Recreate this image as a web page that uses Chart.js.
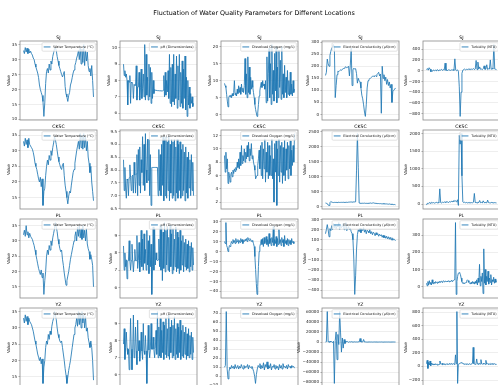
<!DOCTYPE html>
<html><head><meta charset="utf-8">
<script src="https://cdn.jsdelivr.net/npm/chart.js@4.4.0/dist/chart.umd.min.js"></script>
<style>
html,body{margin:0;padding:0;background:#fff;}
#fig{position:relative;width:498px;height:385px;overflow:hidden;background:#fff;}
canvas{position:absolute}
</style></head><body>
<div id="fig"><canvas id="title" width="498" height="24" style="left:0;top:0;width:498px;height:24px"></canvas></div>
<script>
const mainTitle = 'Fluctuation of Water Quality Parameters for Different Locations';
const locations = ['SJ','CKSC','PL','YZ'];
const parameters = ['Water Temperature (°C)','pH (Dimensionless)','Dissolved Oxygen (mg/L)','Electrical Conductivity (μS/cm)','Turbidity (NTU)'];

const sjTemp = [33,32,34,32.5,33.8,32,33.5,32.2,32.8,32,
31.5,30.5,30,28.5,27.5,26.5,25.5,24,21.5,20,
19,18,16,11,15.5,22,26,27,25.5,28.5,
26.5,29.5,28.5,31,32.3,33.5,34,33,31,29.5,
28,27,26,25,24.2,25,26,21,18.5,17.5,
16,18,19,21.5,22.5,24,25.5,26.5,28,29,
30.5,31.5,33,30,34,28.5,33.5,29,35,28,
33,29.5,32.5,28,26,27,24.5,28,23,17.5];
const sjPH = [9.0,8.3,8.6,8.2,8.4,8.0,6.5,8.0,7.9,8.3,
6.6,7.9,7.85,7.8,6.9,7.75,7.7,7.7,8.9,6.8,
7.6,7.6,8.5,6.8,7.55,8.7,6.9,7.5,8.4,7.0,
10.2,6.8,9.6,7.1,8.2,6.8,9.0,7.0,8.8,6.6,
8.5,6.9,8.0,7.2,7.45,7.4,7.4,7.4,7.38,7.38,
7.38,7.37,7.37,7.36,7.36,7.36,7.4,8.3,7.0,8.5,
7.1,8.0,7.3,8.6,6.9,9.6,6.6,8.8,6.4,9.0,
6.7,9.6,6.5,8.4,6.9,9.5,6.3,8.9,6.8,9.6,
6.4,8.5,6.6,9.2,6.3,8.7,6.9,9.5,6.2,8.2,
5.8,8.0,6.5,7.6,6.3,7.2,6.6,7.0,6.4,6.6];
const sjDO = [9.2,8.5,8.0,6.0,4.0,2.3,5.0,5.6,5.2,5.8,
5.0,6.2,5.5,6.5,10.0,5.8,6.4,5.5,7.5,6.2,
8.5,6.5,8.0,6.0,9.0,6.8,7.8,6.5,8.5,16.5,
6.0,12.0,5.0,17.0,6.5,14.0,6.0,11.0,7.5,10.0,
8.0,6.5,5.0,3.0,1.5,0.5,-0.5,0.5,3.0,5.5,
7.0,8.5,9.5,8.0,10.0,8.5,9.0,7.5,10.0,3.5,
17.0,4.0,12.0,19.5,5.0,15.0,3.0,20.6,6.0,13.0,
4.0,18.0,7.0,20.0,3.5,14.0,5.0,19.0,8.0,16.0,
4.5,20.0,6.0,12.0,5.0,14.5,6.5,11.0,5.0,13.0,
6.0,10.0,5.5,12.5,6.0,9.0,5.5,10.0,6.5,7.5];
const sjEC = [162,175,230,210,200,245,262,275,280,290,
278,70,120,165,180,178,182,185,183,188,
190,192,195,198,194,196,200,160,205,275,
120,185,192,188,190,170,130,150,140,135,
110,80,65,40,10,-8,40,110,140,145,
148,152,155,158,160,156,162,158,165,170,
175,160,168,5,200,150,165,140,155,125,
145,120,135,110,125,50,95,100,105,110];
const sjTurb = [20,40,10,55,30,-20,5,-10,15,0,
10,-5,20,5,0,15,10,25,5,20,
10,140,5,15,0,20,10,5,15,10,
20,5,220,10,0,15,-10,-300,-850,-400,
-50,10,20,30,15,25,20,30,25,35,
20,30,25,40,20,30,190,20,160,30,
70,25,30,20,35,90,25,30,110,20,
35,30,200,25,40,30,485,30,25,20];

const ckscTemp = [33,31.5,34,32,33.5,31,34,32,31.5,31,
30.5,29.5,28,26,25,24,22.5,21,20,21.5,
18.5,21,12.5,17,18,22,25,27,25.5,28.5,
27,30,28.5,31,32.5,34.5,33.5,32,30,28,
26.5,25.5,24.5,24,25.5,26,22,19,17,15,
13,15.5,17,16.5,19,21,23,24,26,28,
30,31.5,33,30.5,35.5,31,35,30.5,35.5,31,
34.5,30,33,28,26,23,25,20,17,14];
const ckscPH = [8.4,7.2,8.1,7.3,6.9,7.65,7.6,7.0,7.7,8.2,
7.7,7.2,7.75,7.8,7.1,8.3,7.8,7.1,7.85,8.6,
7.0,8.8,7.4,8.9,7.1,8.4,7.9,9.3,7.4,9.0,
7.2,9.42,8.0,7.5,9.2,7.6,9.2,7.0,8.6,6.62,
8.1,8.1,8.1,8.1,8.1,8.1,8.1,8.1,8.1,7.0,
8.8,7.2,8.6,7.0,9.0,7.4,9.3,6.8,9.2,7.0,
9.3,6.9,9.1,7.2,9.3,6.8,9.0,7.1,9.2,6.9,
9.1,7.0,9.2,6.8,8.9,7.1,9.2,6.9,9.0,7.2,
9.1,6.9,8.8,7.0,9.0,7.2,8.7,6.8,8.9,7.1,
8.5,6.9,8.7,7.3,8.4,7.0,8.6,7.2,8.3,7.0];
const ckscDO = [9.0,6.5,9.5,7.0,8.5,4.8,6.5,6.0,5.0,6.2,
6.5,5.8,6.8,6.3,7.0,6.6,7.2,6.8,8.0,7.2,
8.5,7.0,9.5,7.5,10.5,7.8,9.0,8.2,10.0,8.0,
9.5,8.5,10.5,8.8,11.0,8.2,10.0,9.0,10.8,8.5,
9.0,8.0,7.5,6.8,5.5,5.8,6.0,7.5,8.5,9.8,
7.0,10.5,6.0,11.0,5.5,10.0,7.0,11.5,5.0,9.5,
6.5,11.0,5.5,10.5,6.0,9.0,6.0,11.5,5.5,8.5,
2.0,10.8,6.5,11.2,1.5,10.0,6.0,11.5,5.0,10.5,
6.5,11.0,4.8,10.2,6.0,11.3,5.2,10.0,6.8,11.0,
5.5,10.5,7.0,11.2,6.0,9.8,7.5,10.5,8.0,12.3];
const ckscEC = [130,120,110,60,50,140,180,160,150,145,
150,148,152,145,150,155,148,150,152,150,
155,150,148,152,155,150,158,160,162,165,
160,158,170,165,170,1200,2440,1300,130,120,
125,118,122,120,125,118,120,115,122,118,
125,130,120,128,135,125,120,118,115,110,
112,108,110,105,100,110,95,105,98,100,
95,90,100,85,92,80,88,75,80,70];
const ckscTurb = [-30,20,10,40,30,20,50,30,40,25,
35,50,30,40,30,430,40,30,50,40,
60,45,70,50,60,40,70,50,80,60,
90,70,100,80,60,120,-40,1950,1700,2000,
800,60,40,50,35,45,30,40,35,45,
30,40,35,50,300,40,45,30,50,40,
100,35,45,30,90,40,35,45,30,110,
40,35,30,45,40,35,30,40,35,30];

const plTemp = [32,33.5,31.5,35,32,33,31,32.5,31.5,31,
30.5,29.5,28.5,27,25.5,24,22.5,21,20,19,
20.5,18,19.5,12.5,17,20,25,27,25.5,28.5,
27,30,28.5,31,32.5,34,36,34.5,33,30.5,
29,27.5,26.5,27,24,22,19.5,17.5,15.5,17,
18.5,20,22,24,25.5,27,28.5,30,31.5,33,
30,34.5,31.5,35,31,34,30.5,35,31,33.5,
30,34,29,27.5,26.5,24,25.5,24,22,15];
const plPH = [8.4,7.0,8.0,7.2,7.6,6.5,7.55,7.55,8.7,7.55,
7.0,7.55,8.5,7.55,6.9,7.55,8.2,7.55,7.55,9.0,
7.1,7.55,8.6,6.9,7.55,9.3,7.2,8.8,7.0,9.1,
7.4,8.2,7.0,9.3,7.3,8.7,6.8,9.0,7.2,8.5,
5.6,7.2,9.5,7.0,9.4,7.3,8.0,7.6,7.55,7.6,
8.8,7.2,9.6,7.0,9.5,6.4,9.2,7.1,9.75,6.9,
9.3,7.3,9.5,7.0,8.9,6.9,9.6,7.2,9.1,6.8,
9.4,7.0,8.8,7.2,9.5,6.9,9.2,7.1,8.9,6.8,
9.3,7.0,8.7,7.3,9.0,6.9,8.6,7.2,8.8,7.0,
8.5,7.1,8.7,6.9,8.4,7.2,8.6,7.0,8.3,7.3];
const plDO = [10,8,29,6,4,0,3,6,5,8,
10,8,12,9,11,8,13,9,10,12,
8,11,9,13,10,12,8,11,10,12,
11,13,10,14,12,11,13,12,10,11,
10,8,5,-5,-18,-32,-43,-35,-15,0,
5,8,12,7,13,5,14,8,11,15,
7,12,5,18,8,13,6,14,9,25,
6,12,8,15,5,13,7,22,8,12,
6,14,9,12,5,16,8,11,7,13,
6,12,8,11,7,13,9,10,8,9];
const plEC = [160,200,250,200,130,210,190,240,200,260,
220,250,210,240,230,270,200,250,220,230,
260,200,240,270,190,210,230,200,215,180,
160,100,-100,-440,-250,0,150,200,180,215,
170,205,190,220,175,200,160,195,185,170,
200,160,180,150,175,165,140,170,150,160,
135,155,140,150,125,145,120,140,115,135,
110,130,105,125,100,120,95,110,100,90];
const plTurb = [20,5,30,10,35,15,25,10,40,20,
15,25,20,30,25,20,28,22,30,25,
28,32,25,30,35,28,30,33,27,32,
30,35,28,33,30,36,32,30,35,40,
45,373,-45,30,60,78,82,80,70,50,
30,20,22,18,20,22,25,35,40,35,
25,20,15,25,18,30,20,28,15,30,
20,40,10,50,25,130,5,60,30,80,
-40,220,20,100,10,60,30,90,15,50,
25,70,10,40,30,55,20,45,25,35];

const yzTemp = [33,31.5,34,32,33.5,31,33,32,31.5,31,
30,29,27.5,26,25,23.5,22,21,20,21,
19,20.5,13,18,20,24,26,25,28,26.5,
29,28,30.5,32,33,35,34,32.5,30,28,
27,26,25.5,26,24,22,20,17.5,15.5,13,
15,17,18.5,20,22,24,26,28,30,31,
33,30.5,35,31,34.5,30,35,31.5,34,30,
33.5,29,30,27,25.5,24,26,24,20,14];
const yzPH = [7.8,8.7,6.9,7.6,8.5,7.55,7.2,7.5,6.3,7.5,
9.3,7.5,6.3,7.45,9.5,7.0,7.45,8.8,7.4,6.6,
9.2,7.4,8.0,6.8,7.4,8.5,7.4,6.9,9.0,7.4,
7.2,8.3,7.4,5.5,7.45,8.9,7.45,7.0,7.5,9.0,
7.5,7.5,8.2,7.5,7.0,7.55,8.6,7.2,9.7,7.0,
8.8,7.1,9.3,7.0,8.6,7.3,9.1,6.9,8.9,7.2,
9.3,7.0,8.7,7.1,9.5,6.9,8.8,7.3,9.2,7.0,
8.9,7.1,9.4,6.9,8.7,7.2,9.0,7.0,8.8,7.3,
9.2,6.9,8.6,7.1,8.9,7.0,8.5,7.2,8.8,6.9,
8.4,7.1,8.7,7.0,8.3,7.2,8.5,6.9,8.2,7.3];
const yzDO = [10,12,72,8,-3,5,10,8,12,9,
11,8,13,9,10,12,8,11,9,13,
10,8,12,9,11,10,13,8,12,10,
9,11,8,5,0,-8,2,8,12,10,
14,8,12,9,15,7,13,10,16,8,
12,9,14,7,11,10,13,8,12,9,
11,7,13,9,12,8,14,10,11,9,
12,8,13,10,11,9,12,10,11,9];
const yzEC = [0,500,60300,0,1000,-500,2000,0,-1000,1500,
-82000,3000,20000,-35000,15000,-5000,60300,18000,-20000,8000,
-12000,5000,-3000,2000,0,1000,-500,500,0,800,
0,300,-200,500,0,200,0,400,0,7000,
0,300,0,5000,0,200,0,-200,100,0,
200,0,100,-100,0,200,0,100,0,-100,
0,100,0,200,0,-100,0,100,0,50,
0,100,0,-50,0,100,0,50,0,0];
const yzTurb = [40,90,-30,60,20,80,10,50,30,40,
20,35,25,40,30,20,35,25,30,80,
40,30,45,25,35,30,40,25,35,30,
40,30,35,45,30,40,35,30,40,35,
30,170,40,807,-250,30,40,45,50,55,
50,45,40,35,30,35,30,40,35,30,
35,40,30,35,40,45,280,40,35,30,
45,110,35,40,30,45,35,100,40,30,
45,35,40,30,90,35,45,30,40,35,
30,45,35,40,30,35,40,30,35,30];

const series = [
  [sjTemp, sjPH, sjDO, sjEC, sjTurb],
  [ckscTemp, ckscPH, ckscDO, ckscEC, ckscTurb],
  [plTemp, plPH, plDO, plEC, plTurb],
  [yzTemp, yzPH, yzDO, yzEC, yzTurb]
];
const tickSteps = [
  [5, 1, 5, 50, 200],
  [5, 0.5, 2, 500, 500],
  [5, 1, 10, 100, 100],
  [5, 1, 10, 20000, 200]
];
const tickDecimals = [
  [0, 0, 0, 0, 0],
  [0, 1, 0, 0, 0],
  [0, 0, 0, 0, 0],
  [0, 0, 0, 0, 0]
];

// layout (pixels)
const colCenters = [58.4, 158.8, 259.4, 360.6, 461.6];
const rowTops = [41, 130, 219, 308];
const AXW = 77, AXH = 79;
const YW = 40, TM = 12, RM = 2, BM = 4;
const LINE = '#1f77b4';
const FONT = '"DejaVu Sans"';
const TICKSIZE = 4.1;

(function () {
  const c = document.getElementById('title').getContext('2d');
  c.font = '6.4px ' + FONT;
  c.fillStyle = '#000';
  c.textAlign = 'center';
  c.textBaseline = 'middle';
  c.fillText(mainTitle, 254, 13);
})();

function fmtTick(v, dec) {
  const s = Math.abs(v).toFixed(dec);
  return (v < -1e-9 ? '\u2212' : '') + s;
}

const decor = {
  id: 'decor',
  afterDraw(chart, args, o) {
    const {ctx, chartArea: a} = chart;
    ctx.save();
    ctx.strokeStyle = '#8a8a8a';
    ctx.lineWidth = 0.8;
    ctx.strokeRect(a.left, a.top, a.right - a.left, a.bottom - a.top);
    ctx.fillStyle = '#000';
    ctx.font = '4.6px ' + FONT;
    ctx.textAlign = 'center';
    ctx.textBaseline = 'alphabetic';
    ctx.fillText(o.title, (a.left + a.right) / 2, a.top - 2);
    ctx.font = TICKSIZE + 'px ' + FONT;
    let mw = 0;
    chart.scales.y.ticks.forEach(t => { mw = Math.max(mw, ctx.measureText(fmtTick(t.value, o.dec)).width); });
    const lx = a.left - 1.5 - 1.5 - mw - 1.2;
    ctx.save();
    ctx.translate(lx, (a.top + a.bottom) / 2);
    ctx.rotate(-Math.PI / 2);
    ctx.textAlign = 'center';
    ctx.textBaseline = 'bottom';
    ctx.fillStyle = '#111';
    ctx.fillText('Value', 0, 0);
    ctx.restore();
    const fs = 3.4;
    ctx.font = fs + 'px ' + FONT;
    const tw = ctx.measureText(o.label).width;
    const bp = 0.5 * fs, hl = 2 * fs, htp = 0.8 * fs, bap = 0.5 * fs;
    const bw = 2 * bp + hl + htp + tw;
    const bh = 2.5 * fs;
    const bx = a.right - bap - bw, by = a.top + bap;
    ctx.beginPath();
    if (ctx.roundRect) ctx.roundRect(bx, by, bw, bh, 1); else ctx.rect(bx, by, bw, bh);
    ctx.fillStyle = 'rgba(255,255,255,0.8)';
    ctx.fill();
    ctx.strokeStyle = '#d0d0d0';
    ctx.lineWidth = 0.6;
    ctx.stroke();
    const my = by + bh / 2;
    ctx.beginPath();
    ctx.moveTo(bx + bp, my);
    ctx.lineTo(bx + bp + hl, my);
    ctx.strokeStyle = LINE;
    ctx.lineWidth = 0.9;
    ctx.stroke();
    ctx.fillStyle = '#111';
    ctx.textAlign = 'left';
    ctx.textBaseline = 'middle';
    ctx.fillText(o.label, bx + bp + hl + htp, my + 0.2);
    ctx.restore();
  }
};

const fig = document.getElementById('fig');
locations.forEach((loc, r) => {
  parameters.forEach((param, c) => {
    const vals = series[r][c];
    const n = vals.length;
    const lo = Math.min(...vals), hi = Math.max(...vals);
    const span = hi - lo;
    const ymin = lo - 0.05 * span, ymax = hi + 0.05 * span;
    const step = tickSteps[r][c], dec = tickDecimals[r][c];
    const axL = Math.round(colCenters[c] - AXW / 2);
    const axT = Math.round(rowTops[r]);
    const W = YW + AXW + RM, H = TM + AXH + BM;
    const cv = document.createElement('canvas');
    cv.width = W; cv.height = H;
    cv.style.width = W + 'px'; cv.style.height = H + 'px';
    cv.style.left = (axL - YW) + 'px';
    cv.style.top = (axT - TM) + 'px';
    fig.appendChild(cv);
    const chart = new Chart(cv, {
      type: 'line',
      data: { datasets: [{
        data: vals.map((v, i) => ({x: i, y: v})),
        borderColor: LINE, borderWidth: 0.85, pointRadius: 0, tension: 0, fill: false
      }]},
      options: {
        responsive: false, animation: false, devicePixelRatio: 1, events: [],
        layout: { padding: { top: TM, right: RM, bottom: BM, left: 0 } },
        plugins: { legend: {display: false}, title: {display: false}, tooltip: {enabled: false},
          decor: { title: loc, label: param, dec: dec } },
        scales: {
          x: { type: 'linear', display: false, min: -0.05 * (n - 1), max: 1.05 * (n - 1) },
          y: {
            type: 'linear', min: ymin, max: ymax,
            afterFit(s) { s.width = YW; },
            afterBuildTicks(s) {
              const t = [];
              for (let v = Math.ceil(ymin / step) * step; v <= ymax + 1e-9; v += step) t.push({value: +v.toFixed(6)});
              s.ticks = t;
            },
            border: { display: false },
            grid: { color: '#e2e2e2', lineWidth: 0.6, drawTicks: true, tickLength: 1.5, tickColor: '#777' },
            ticks: { autoSkip: false, maxRotation: 0, padding: 1.5, color: '#222',
              font: { family: 'DejaVu Sans', size: TICKSIZE },
              callback: v => fmtTick(v, dec) }
          }
        }
      },
      plugins: [decor]
    });
    const ca = chart.chartArea;
    cv.style.left = (axL - ca.left) + 'px';
    cv.style.top = (axT - ca.top) + 'px';
  });
});
</script>
</body></html>
